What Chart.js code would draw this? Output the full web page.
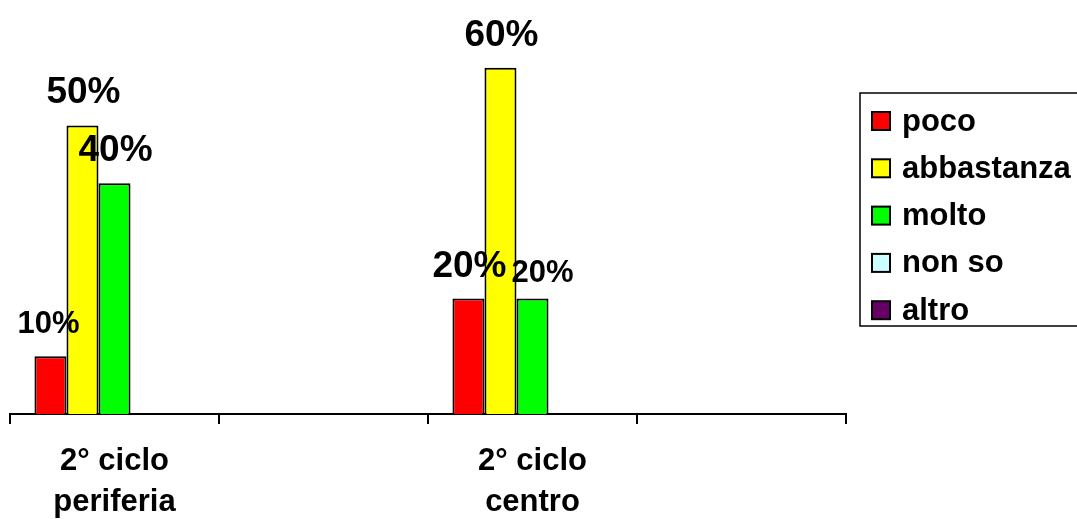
<!DOCTYPE html>
<html>
<head>
<meta charset="utf-8">
<script src="https://cdn.jsdelivr.net/npm/chart.js@4/dist/chart.umd.min.js"></script>
<style>
  html, body { margin: 0; padding: 0; background: #fff; }
  #wrap { width: 1077px; height: 519px; position: relative; overflow: hidden; }
</style>
</head>
<body>
<div id="wrap"><canvas id="c" width="1077" height="519"></canvas></div>
<script>
// Categories (two empty slots keep the original spacing of the groups)
const categories = [['2° ciclo', 'periferia'], '', ['2° ciclo', 'centro'], ''];

// Answers, percent of respondents
const seriesNames = ['poco', 'abbastanza', 'molto', 'non so', 'altro'];
const poco       = [10, null, 20, null];
const abbastanza = [50, null, 60, null];
const molto      = [40, null, 20, null];
const nonSo      = [null, null, null, null];
const altro      = [null, null, null, null];

const seriesColors = ['#FF0000', '#FFFF00', '#00FF00', '#CCFFFF', '#660066'];
const FONT = '"Liberation Sans", Arial, sans-serif';

// Label look: default size/rise, with a few individual adjustments
const labelDefault = { size: 37, rise: 22, dx: 1 };
const labelTweaks = {
  '0,0': { size: 31, rise: 23, dx: -2 },
  '2,2': { size: 31, rise: 17, dx: 10 }
};

const valueLabels = {
  id: 'valueLabels',
  afterDatasetsDraw(chart) {
    const ctx = chart.ctx;
    ctx.save();
    ctx.fillStyle = '#000';
    ctx.textAlign = 'center';
    ctx.textBaseline = 'alphabetic';
    chart.data.datasets.forEach((ds, di) => {
      const meta = chart.getDatasetMeta(di);
      meta.data.forEach((bar, i) => {
        const v = ds.data[i];
        if (v === null || v === undefined) return;
        const t = Object.assign({}, labelDefault, labelTweaks[di + ',' + i] || {});
        ctx.font = 'bold ' + t.size + 'px ' + FONT;
        ctx.fillText(v + '%', bar.x + t.dx, bar.y - t.rise);
      });
    });
    ctx.restore();
  }
};

const boxLegend = {
  id: 'boxLegend',
  afterDraw(chart) {
    const ctx = chart.ctx;
    ctx.save();
    ctx.strokeStyle = '#000';
    ctx.lineWidth = 1.5;
    ctx.strokeRect(860, 93, 240, 233);
    ctx.font = 'bold 31px ' + FONT;
    ctx.textAlign = 'left';
    ctx.textBaseline = 'middle';
    chart.data.datasets.forEach((ds, i) => {
      const cy = 121 + i * 47.3;
      ctx.fillStyle = ds.backgroundColor;
      ctx.fillRect(872, cy - 9, 18, 18);
      ctx.lineWidth = 2;
      ctx.strokeRect(872, cy - 9, 18, 18);
      ctx.fillStyle = '#000';
      ctx.fillText(ds.label, 902, cy + 1);
    });
    ctx.restore();
  }
};

const values = [poco, abbastanza, molto, nonSo, altro];

new Chart(document.getElementById('c'), {
  type: 'bar',
  data: {
    labels: categories,
    datasets: seriesNames.map((name, i) => ({
      label: name,
      data: values[i],
      backgroundColor: seriesColors[i],
      borderColor: '#000',
      borderWidth: 2,
      borderSkipped: 'bottom',
      barPercentage: 1,
      categoryPercentage: 0.766
    }))
  },
  options: {
    responsive: false,
    animation: false,
    layout: { padding: { left: 10, right: 231, top: 10, bottom: 0 } },
    plugins: {
      legend: { display: false },
      tooltip: { enabled: false }
    },
    scales: {
      x: {
        offset: true,
        grid: {
          offset: true,
          drawOnChartArea: false,
          drawTicks: true,
          tickLength: 10,
          color: '#000',
          lineWidth: 2
        },
        border: { display: true, color: '#000', width: 2 },
        ticks: {
          color: '#000',
          font: { family: FONT, size: 31, weight: 'bold', lineHeight: 1.32 },
          maxRotation: 0,
          autoSkip: false,
          padding: 17
        },
        afterFit(scale) { scale.height = 105; }
      },
      y: {
        display: false,
        min: 0,
        max: 70
      }
    }
  },
  plugins: [valueLabels, boxLegend]
});
</script>
</body>
</html>
